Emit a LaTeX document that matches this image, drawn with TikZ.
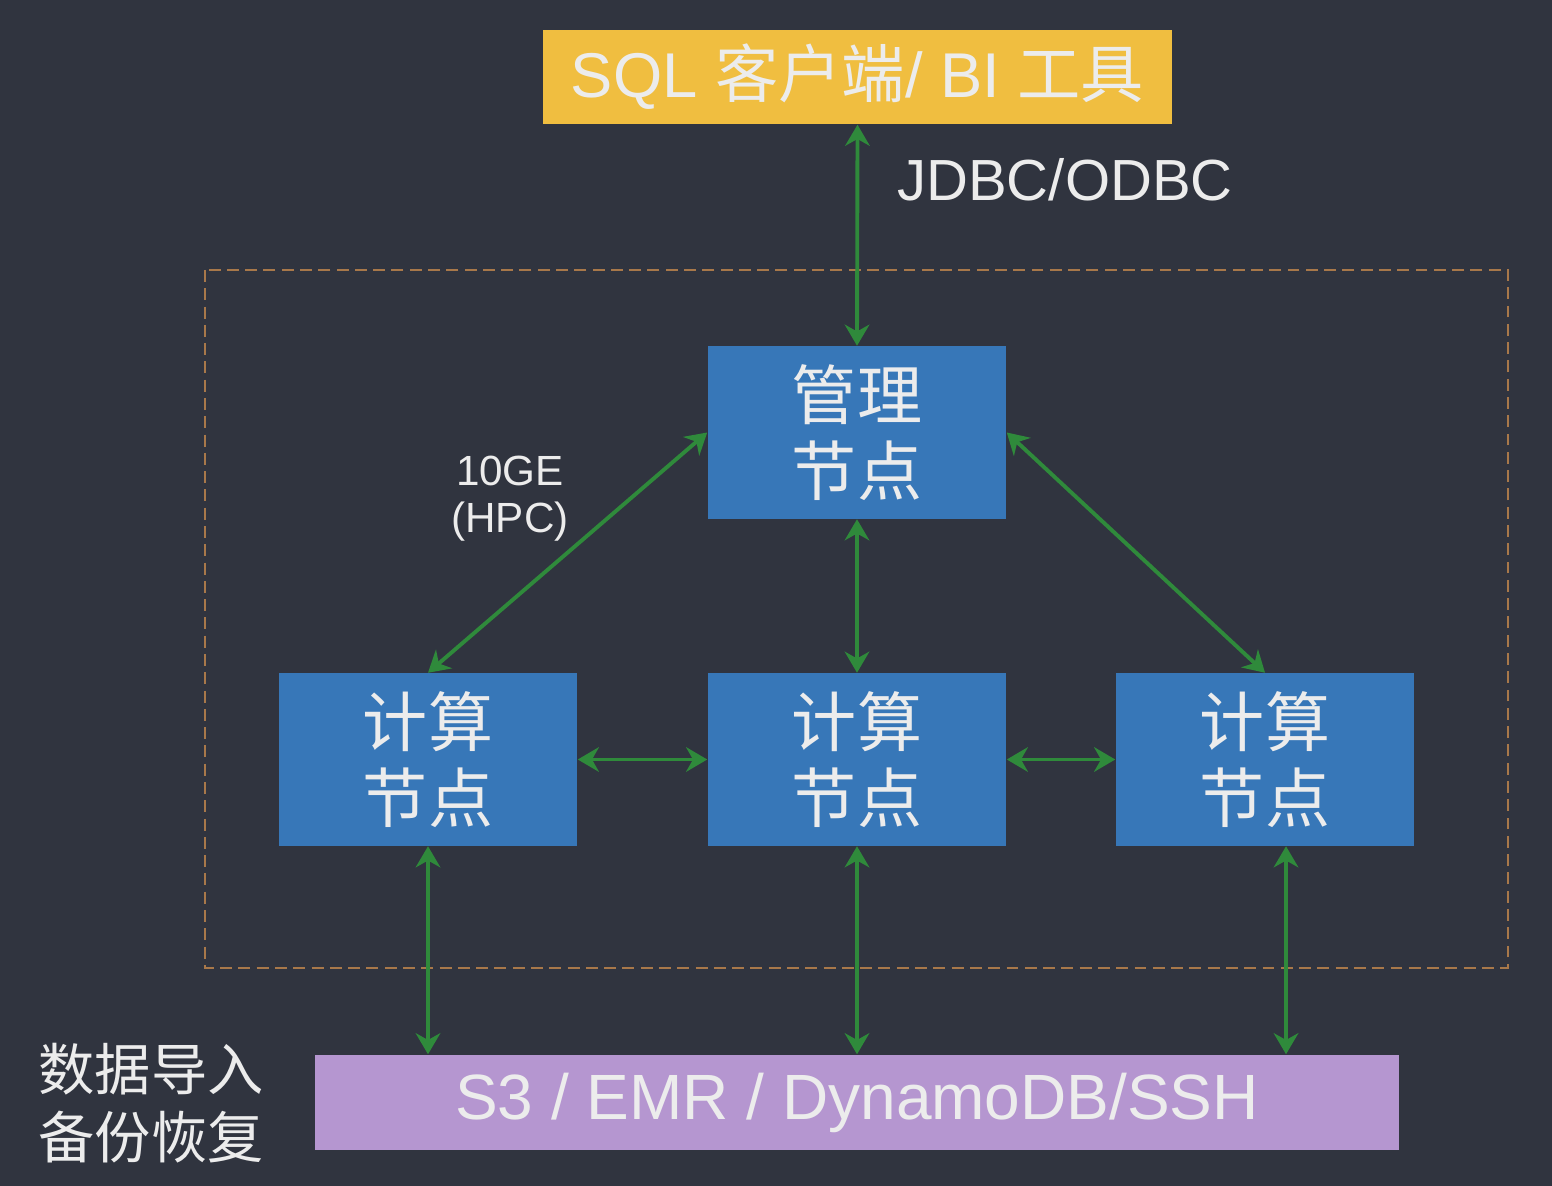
\documentclass[tikz,border=0pt]{standalone}
\usepackage{fontspec}
\setmainfont{Liberation Sans}
\newfontfamily\cjk{Noto Sans CJK SC}
\usetikzlibrary{arrows.meta}
\definecolor{bg}{HTML}{30343F}
\definecolor{ybox}{HTML}{F0BE40}
\definecolor{bbox}{HTML}{3777B8}
\definecolor{pbox}{HTML}{B596D0}
\definecolor{grn}{HTML}{2F8A3B}
\definecolor{dashcol}{HTML}{A8784A}
\definecolor{txt}{HTML}{ECECEC}
\begin{document}
\begin{tikzpicture}[x=0.01cm,y=-0.01cm,
  nodebox/.style={fill=bbox,draw=none,minimum width=2.98cm,minimum height=1.72cm,inner sep=0pt,
    text=txt,font=\cjk\fontsize{18.5}{21.8}\selectfont,align=center},
  link/.style={draw=grn,line width=1.1pt,{Stealth[length=6pt,width=7pt]}-{Stealth[length=6pt,width=7pt]}},
  lbl/.style={text=txt,inner sep=0pt}]
\fill[bg] (0,0) rectangle (1552,1186);
\useasboundingbox (0,0) rectangle (1552,1186);
\draw[dashcol,line width=0.6pt,dash pattern=on 3.4pt off 1.8pt] (205,270) rectangle (1508,968);
\node[fill=ybox,minimum width=6.29cm,minimum height=0.94cm,inner sep=0pt,text=txt,
  font=\fontsize{18}{21}\selectfont] (top) at (857.5,77) {SQL {\cjk 客户端}/ BI {\cjk 工具}};
\node[nodebox] (mgmt) at (857,432.5) {管理\\节点};
\node[nodebox] (c1) at (428,759.5) {计算\\节点};
\node[nodebox] (c2) at (857,759.5) {计算\\节点};
\node[nodebox] (c3) at (1265,759.5) {计算\\节点};
\node[fill=pbox,minimum width=10.84cm,minimum height=0.95cm,inner sep=0pt,text=txt,
  font=\fontsize{18.2}{21}\selectfont] (pur) at (857,1102.5) {S3 / EMR / DynamoDB/SSH};
\node[lbl,font=\fontsize{16.5}{20}\selectfont] (jdbc) at (1065,180) {JDBC/ODBC};
\node[lbl,font=\fontsize{12}{13.3}\selectfont,align=center] (hpc) at (510,499) {10GE\\(HPC)};
\node[lbl,font=\cjk\fontsize{16}{19.3}\selectfont,align=left] (imp) at (151,1103) {数据导入\\备份恢复};
\draw[link] (top.south) -- (mgmt.north);
\draw[link] (mgmt.west) -- (c1.north);
\draw[link] (mgmt.east) -- (c3.north);
\draw[link] (mgmt.south) -- (c2.north);
\draw[link] (c1.east) -- (c2.west);
\draw[link] (c2.east) -- (c3.west);
\draw[link] (c1.south) -- (c1.south |- pur.north);
\draw[link] (c2.south) -- (c2.south |- pur.north);
\draw[link] ([xshift=0.21cm]c3.south) -- ([xshift=0.21cm]c3.south |- pur.north);
\end{tikzpicture}
\end{document}
